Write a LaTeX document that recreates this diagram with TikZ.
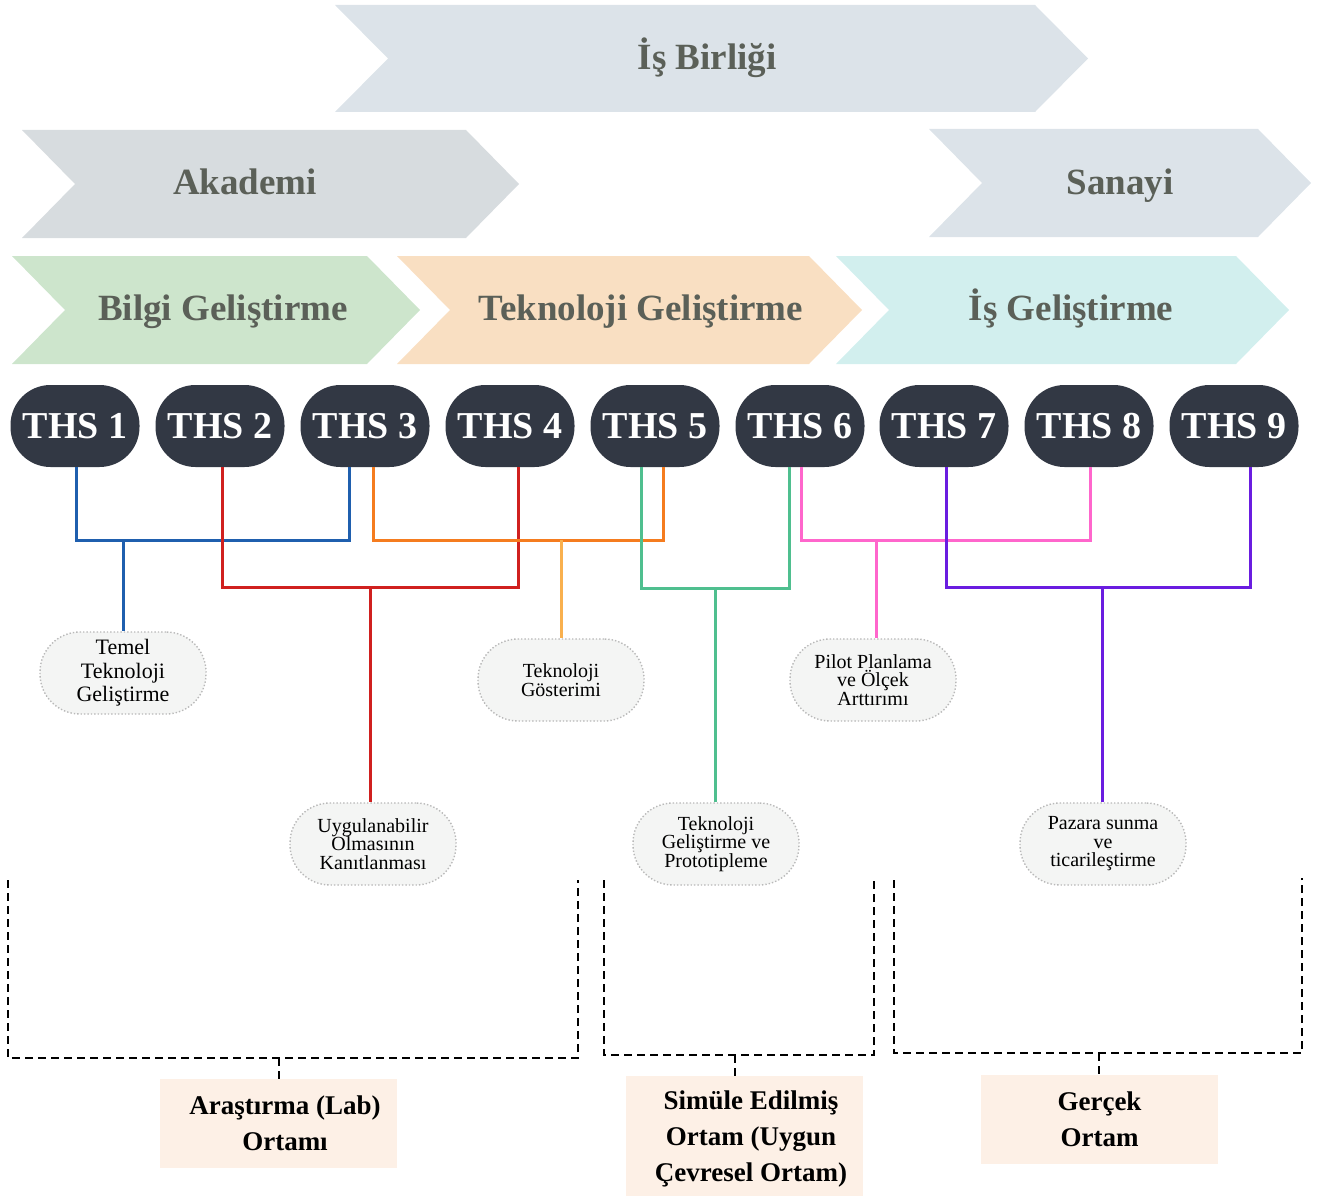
\documentclass[tikz,border=0pt]{standalone}
\usepackage{fontspec}
\setmainfont{Liberation Serif}
\usetikzlibrary{calc}
\definecolor{chgray}{HTML}{DCE3E9}
\definecolor{chgrayb}{HTML}{D7DCDF}
\definecolor{chgreen}{HTML}{CDE5CC}
\definecolor{chorange}{HTML}{F9DFC2}
\definecolor{chcyan}{HTML}{D2EFEE}
\definecolor{headtxt}{HTML}{5B6058}
\definecolor{pilldark}{HTML}{323844}
\definecolor{labfill}{HTML}{F4F5F4}
\definecolor{envfill}{HTML}{FDF0E6}
\definecolor{cblue}{HTML}{1F5FAE}
\definecolor{cred}{HTML}{D0201F}
\definecolor{corange}{HTML}{F57C1F}
\definecolor{corangel}{HTML}{F9B04E}
\definecolor{cgreen}{HTML}{4FBF8F}
\definecolor{cpink}{HTML}{FF66CC}
\definecolor{cpurple}{HTML}{6A1DE0}
\newcommand\mychev[6]{% x1 x2 ytop ybot depth color
  \fill[#6] (#1,#3) -- ({#2-#5},#3) -- (#2,{(#3+#4)/2}) -- ({#2-#5},#4) -- (#1,#4) -- ({#1+#5},{(#3+#4)/2}) -- cycle;}
\tikzset{
  head/.style={text=headtxt, font=\fontsize{37}{40}\selectfont\bfseries, inner sep=0, anchor=base},
  ths/.style={fill=pilldark, rounded corners=40pt, minimum width=129pt, minimum height=82pt, inner sep=0, text=white, font=\fontsize{38}{40}\selectfont\bfseries},
  lab/.style={draw=gray!55, dotted, line width=1.4pt, fill=labfill, rounded corners=40pt, minimum width=166pt, minimum height=82pt, align=center, inner sep=0, font=\fontsize{20}{18.5}\selectfont},
  conn/.style={line width=3pt},
  brk/.style={line width=1.5pt, dash pattern=on 8pt off 5pt},
  envbox/.style={fill=envfill, minimum width=237pt, inner sep=0},
  envtxt/.style={align=center, inner sep=0, font=\fontsize{27}{36}\selectfont\bfseries}
}
\begin{document}
\begin{tikzpicture}[x=1pt,y=-1pt]
\useasboundingbox (0,0) rectangle (1318,1196);
% chevrons
\mychev{335}{1088}{5}{112}{53}{chgray}
\mychev{22}{519}{130}{238}{53}{chgrayb}
\mychev{929}{1311}{129}{237}{53}{chgray}
\mychev{12}{420}{256}{364}{53}{chgreen}
\mychev{397}{862}{256}{364}{53}{chorange}
\mychev{836}{1289}{256}{364}{53}{chcyan}
\node[head] (hb) at (707,70) {İş Birliği};
\node[head] (ha) at (245,195) {Akademi};
\node[head] (hs) at (1120,195) {Sanayi};
\node[head] (hg) at (223,320) {Bilgi Geliştirme};
\node[head] (ht) at (641,320) {Teknoloji Geliştirme};
\node[head] (hi) at (1071,320) {İş Geliştirme};
% THS pills
\foreach \i/\x in {1/75,2/220,3/365,4/510,5/655,6/800,7/944,8/1089,9/1234}
  \node[ths] (t\i) at (\x,426) {THS \i};
% labels
\node[lab, font=\fontsize{22}{23.5}\selectfont] (n1) at (123,673) {Temel\\Teknoloji\\Geliştirme};
\node[lab, font=\fontsize{20}{19}\selectfont] (n2) at (561,680) {Teknoloji\\Gösterimi};
\node[lab] (n3) at (873,680) {Pilot Planlama\\ve Ölçek\\Arttırımı};
\node[lab] (n4) at (373,844) {Uygulanabilir\\Olmasının\\Kanıtlanması};
\node[lab] (n5) at (716,844) {Teknoloji\\Geliştirme ve\\Prototipleme};
\node[lab] (n6) at (1103,844) {Pazara sunma\\ve\\ticarileştirme};
% junctions
\coordinate (j1) at (123,540);
\coordinate (j2) at (370,587);
\coordinate (j3) at (561,540);
\coordinate (j4) at (715,588);
\coordinate (j5) at (876,540);
\coordinate (j6) at (1102,587);
% connectors
\draw[conn, cblue] ([xshift=1pt]t1.south) |- ($(t3.south)+(-16,73)$) -- ([xshift=-16pt]t3.south);
\draw[conn, cblue] (j1) -- (n1.north);
\draw[conn, cred] ([xshift=2pt]t2.south) |- ($(t4.south)+(8,120)$) -- ([xshift=8pt]t4.south);
\draw[conn, cred] (j2) -- (j2 |- n4.north);
\draw[conn, corange] ([xshift=8pt]t3.south) |- ($(t5.south)+(8,73)$) -- ([xshift=8pt]t5.south);
\draw[conn, corangel] (j3) -- (n2.north);
\draw[conn, cgreen] ([xshift=-14pt]t5.south) |- ($(t6.south)+(-11,121)$) -- ([xshift=-11pt]t6.south);
\draw[conn, cgreen] (j4) -- (j4 |- n5.north);
\draw[conn, cpink] ([xshift=1pt]t6.south) |- ($(t8.south)+(1,73)$) -- ([xshift=1pt]t8.south);
\draw[conn, cpink] (j5) -- (j5 |- n3.north);
\draw[conn, cpurple] ([xshift=2pt]t7.south) |- ($(t9.south)+(16,120)$) -- ([xshift=16pt]t9.south);
\draw[conn, cpurple] (j6) -- (j6 |- n6.north);
% environment boxes
\node[envbox, minimum height=89pt] (ea) at (278.5,1123.5) {};
\node[envbox, minimum height=120pt] (eb) at (744.5,1136) {};
\node[envbox, minimum height=89pt] (ec) at (1099.5,1119.5) {};
\node[envtxt] (ta) at (285,1123.5) {Araştırma (Lab)\\Ortamı};
\node[envtxt] (tb) at (751,1139) {Simüle Edilmiş\\Ortam (Uygun\\Çevresel Ortam)};
\node[envtxt] (tc) at (1099.5,1119.5) {Gerçek\\Ortam};
% dashed brackets
\coordinate (ka) at (279,1058);
\coordinate (kb) at (735,1055);
\coordinate (kc) at (1099,1053);
\draw[brk] (8,880) -- (8,1058) -- (578,1058) -- (578,880);
\draw[brk] (ka) -- (ka |- ea.north);
\draw[brk] (604,880) -- (604,1055) -- (874,1055) -- (874,880);
\draw[brk] (kb) -- (kb |- eb.north);
\draw[brk] (894,880) -- (894,1053) -- (1302,1053) -- (1302,878);
\draw[brk] (kc) -- (kc |- ec.north);
\end{tikzpicture}
\end{document}
